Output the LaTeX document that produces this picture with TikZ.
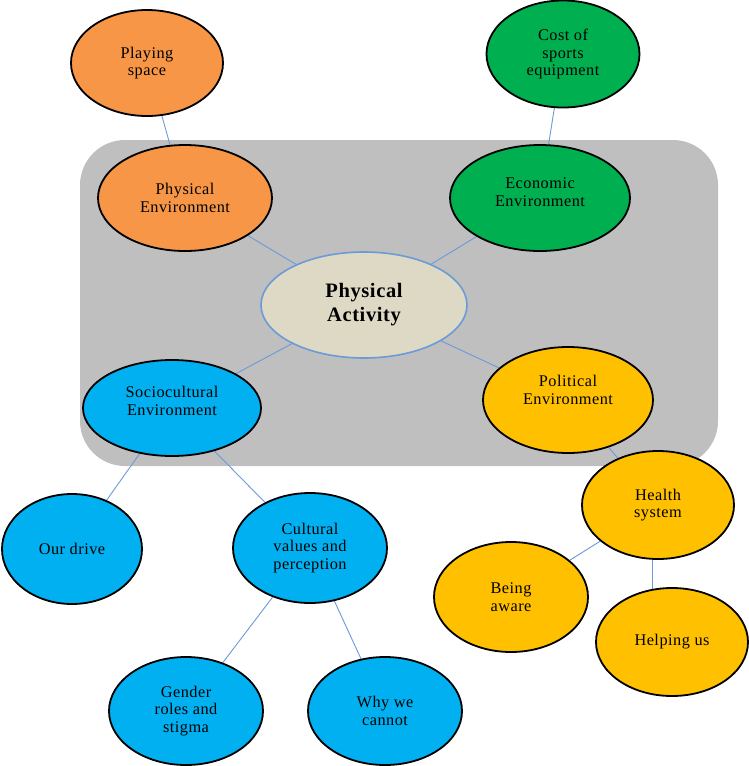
\documentclass[tikz,border=0pt]{standalone}
\usepackage{fontspec}
\setmainfont{Liberation Serif}
\newfontfamily\bubfont[LetterSpace=3]{Liberation Serif}
\usetikzlibrary{shapes.geometric,backgrounds}
\definecolor{cOrange}{HTML}{F79646}
\definecolor{cGreen}{HTML}{00B050}
\definecolor{cBlue}{HTML}{00B0F0}
\definecolor{cYellow}{HTML}{FFC000}
\definecolor{cBeige}{HTML}{DDD9C4}
\definecolor{cLine}{HTML}{6A9AD8}
\definecolor{cGray}{HTML}{BFBFBF}
\tikzset{
  bub/.style={ellipse, draw=black, line width=1.8pt, inner sep=0pt, align=center,
    font=\bubfont\fontsize{16.3}{17.7}\selectfont},
  link/.style={draw=cLine, line width=0.9pt},
}
\begin{document}
\begin{tikzpicture}[x=1pt,y=-1pt]
\useasboundingbox (0,0) rectangle (749,766);

\node[bub, fill=cOrange, minimum width=152pt, minimum height=106pt] (play) at (147,63) {Playing\\space};
\node[bub, fill=cOrange, minimum width=174pt, minimum height=106pt] (phys) at (185,198) {Physical\\Environment};
\node[bub, fill=cGreen, minimum width=153pt, minimum height=107pt] (cost) at (563,54) {Cost of\\sports\\equipment};
\node[bub, fill=cGreen, minimum width=180pt, minimum height=106pt] (econ) at (540,198) {Economic\\Environment\\[-5.7pt]};
\node[ellipse, draw=cLine, line width=1.6pt, fill=cBeige, inner sep=0pt, align=center,
  minimum width=206pt, minimum height=106pt, font=\bubfont\fontsize{20.5}{24}\selectfont\bfseries] (pa) at (364,305) {Physical\\Activity};
\node[bub, fill=cBlue, minimum width=178pt, minimum height=96pt] (soc) at (172,408) {Sociocultural\\Environment\\[-3.7pt]};
\node[bub, fill=cYellow, minimum width=170pt, minimum height=106pt] (pol) at (568,400) {Political\\Environment\\[2.3pt]};
\node[bub, fill=cBlue, minimum width=140pt, minimum height=110pt] (drive) at (72,549) {Our drive};
\node[bub, fill=cBlue, minimum width=154pt, minimum height=110pt] (cult) at (310,548) {Cultural\\values and\\perception};
\node[bub, fill=cYellow, minimum width=152pt, minimum height=108pt] (health) at (658,505) {Health\\system};
\node[bub, fill=cYellow, minimum width=154pt, minimum height=110pt] (aware) at (511,597) {Being\\aware};
\node[bub, fill=cYellow, minimum width=152pt, minimum height=108pt] (help) at (672,642) {Helping us};
\node[bub, fill=cBlue, minimum width=154pt, minimum height=108pt] (gender) at (186,711) {Gender\\roles and\\stigma};
\node[bub, fill=cBlue, minimum width=154pt, minimum height=108pt] (why) at (385,711) {Why we\\cannot};

\path (health.south) ++(-6pt,0) coordinate (hs);
\path (hs |- help.center) coordinate (hh);

\begin{pgfonlayer}{background}
\fill[cGray, rounded corners=45pt] (80,140) rectangle (718,466);
\draw[link] (play) -- (phys);
\draw[link] (phys) -- (pa);
\draw[link] (cost) -- (econ);
\draw[link] (econ) -- (pa);
\draw[link] (pa) -- (soc);
\draw[link] (pa) -- (pol);
\draw[link] (soc) -- (drive);
\draw[link] (soc) -- (cult);
\draw[link] (pol) -- (health);
\draw[link] (health) -- (aware);
\draw[link] (hs) -- (hh);
\draw[link] (cult) -- (gender);
\draw[link] (cult) -- (why);
\end{pgfonlayer}
\end{tikzpicture}
\end{document}
